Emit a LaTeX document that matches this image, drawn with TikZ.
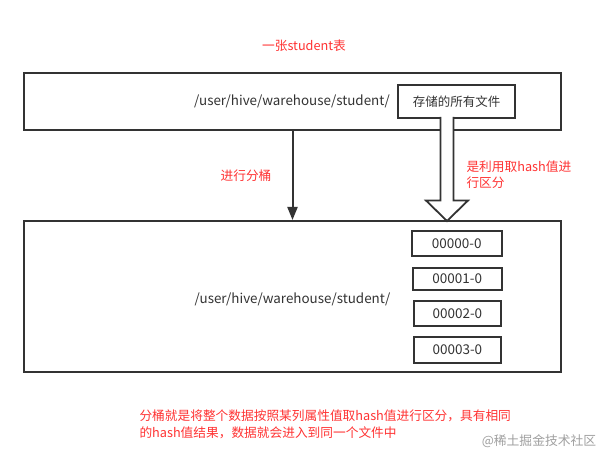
\documentclass[tikz,border=0pt]{standalone}
\usepackage{fontspec}
\setmainfont{Noto Sans CJK SC}
\usetikzlibrary{arrows.meta}
\definecolor{ln}{HTML}{333333}
\definecolor{rd}{HTML}{FF3333}
\definecolor{wm}{HTML}{A0A0A0}
\tikzset{
  bigbox/.style={draw=ln,line width=2pt,fill=white,inner sep=0pt},
  filebox/.style={draw=ln,line width=1.8pt,fill=white,inner sep=0pt,font=\fontsize{13.5}{15}\selectfont,text=ln},
  pathtxt/.style={font=\fontsize{13.4}{15}\selectfont,text=ln},
  note/.style={font=\fontsize{12.7}{16}\selectfont,text=rd,align=left},
}
\begin{document}
\begin{tikzpicture}[x=1pt,y=-1pt]
\useasboundingbox (0,0) rectangle (610,462);
\fill[white] (0,0) rectangle (610,462);
% title
\node[note] (title) at (304,46) {一张student表};
% top box
\node[bigbox,minimum width=537pt,minimum height=57pt] (top) at (292.5,101.5) {};
\node[pathtxt] (toppath) at (292,101.5) {/user/hive/warehouse/student/};
\node[filebox,font=\fontsize{12.5}{14}\selectfont,minimum width=117pt,minimum height=33pt] (store) at (456.5,101.5) {存储的所有文件};
% bottom box
\node[bigbox,minimum width=537pt,minimum height=151pt] (bottom) at (292.5,296.5) {};
\node[pathtxt] (botpath) at (292.5,299) {/user/hive/warehouse/student/};
\node[filebox,minimum width=90pt,minimum height=25pt] (f0) at (456.7,243.2) {00000-0};
\node[filebox,minimum width=89pt,minimum height=22pt] (f1) at (457.2,279) {00001-0};
\node[filebox,minimum width=86.7pt,minimum height=25.3pt] (f2) at (457.4,313.3) {00002-0};
\node[filebox,minimum width=86.7pt,minimum height=26pt] (f3) at (457.4,349.7) {00003-0};
% black arrow
\draw[ln,line width=2pt,-{Triangle[length=13pt,width=10pt]}] (top.south) -- (bottom.north);
\node[note] (lbl1) at (246,176) {进行分桶};
% hollow arrow
\coordinate (hs) at (447,117);
\coordinate (ht) at (447,221);
\draw[ln,line width=1.8pt,fill=white,line join=miter]
  (440.5,117) -- (440.5,200.5) -- (426,200.5) -- (ht)
  -- (468,200.5) -- (453.5,200.5) -- (453.5,117);
\node[note,anchor=west] (lbl2) at (463,175) {是利用取hash值进\\行区分};
% bottom note
\node[note,anchor=west,font=\fontsize{12.7}{17}\selectfont] (desc) at (136,424.5) {分桶就是将整个数据按照某列属性值取hash值进行区分，具有相同\\的hash值结果，数据就会进入到同一个文件中};
\node[font=\fontsize{12.8}{14}\selectfont,text=wm] (wmk) at (539,441.5) {@稀土掘金技术社区};
\end{tikzpicture}
\end{document}
